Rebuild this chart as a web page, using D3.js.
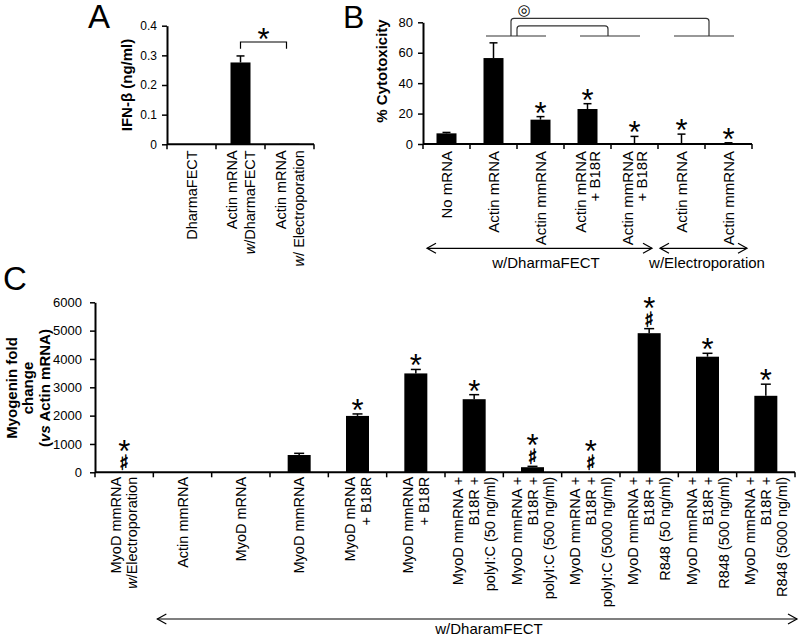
<!DOCTYPE html>
<html><head><meta charset="utf-8">
<script src="https://cdn.jsdelivr.net/npm/d3@7"></script>
<style>
body{margin:0;background:#fff}
svg{display:block}
</style></head>
<body><svg id="chart" width="800" height="635" font-family='"Liberation Sans",Arial,Helvetica,sans-serif'></svg>
<script>
// ---------- Panel A data ----------
const aCategories = [["DharmaFECT"], ["Actin mRNA", "w/DharmaFECT"], ["Actin mRNA", "w/ Electroporation"]];
const aValues = [0, 0.276, 0.002];
const aErrors = [0, 0.022, 0];
const aMarks = [[], [], []];
const aTicks = [0, 0.1, 0.2, 0.3, 0.4];

// ---------- Panel B data ----------
const bCategories = [["No mRNA"], ["Actin mRNA"], ["Actin mmRNA"], ["Actin mRNA", "+ B18R"], ["Actin mmRNA", "+ B18R"], ["Actin mRNA"], ["Actin mmRNA"]];
const bValues = [7, 56.5, 16, 23, 0, 0, 0.5];
const bErrors = [0.6, 10, 2, 3.5, 5, 6.5, 0.3];
const bMarks = [[], [], ["*"], ["*"], ["*"], ["*"], ["*"]];
const bTicks = [0, 20, 40, 60, 80];
const bGroups = ["w/DharmaFECT", "w/Electroporation"];

// ---------- Panel C data ----------
const cCategories = [
  ["MyoD mmRNA", "w/Electroporation"],
  ["Actin mmRNA"],
  ["MyoD mRNA"],
  ["MyoD mmRNA"],
  ["MyoD mRNA", "+ B18R"],
  ["MyoD mmRNA", "+ B18R"],
  ["MyoD mmRNA +", "B18R +", "polyI:C (50 ng/ml)"],
  ["MyoD mmRNA +", "B18R +", "polyI:C (500 ng/ml)"],
  ["MyoD mmRNA +", "B18R +", "polyI:C (5000 ng/ml)"],
  ["MyoD mmRNA +", "B18R +", "R848 (50 ng/ml)"],
  ["MyoD mmRNA +", "B18R +", "R848 (500 ng/ml)"],
  ["MyoD mmRNA +", "B18R +", "R848 (5000 ng/ml)"]
];
const cValues = [0, 0, 0, 610, 1990, 3490, 2580, 180, 0, 4910, 4080, 2700];
const cErrors = [0, 0, 0, 60, 70, 140, 160, 30, 0, 160, 120, 410];
const cMarks = [["*", "♯"], [], [], [], ["*"], ["*"], ["*"], ["*", "♯"], ["*", "♯"], ["*", "♯"], ["*"], ["*"]];
const cTicks = [0, 1000, 2000, 3000, 4000, 5000, 6000];
const cGroup = "w/DharamFECT";

const svg = d3.select("#chart");
const SYM = '"DejaVu Sans"';

function addLabelLine(sel, str, italicW) {
  if (italicW && str.startsWith("w/")) {
    sel.append("tspan").style("font-style", "italic").text("w");
    sel.append("tspan").text(str.slice(1));
  } else sel.text(str);
}

function star(g, cx, cy) {
  g.append("text").attr("x", cx).attr("y", cy + 17).attr("text-anchor", "middle")
    .attr("fill", "#000").style("font-size", "31px").text("*");
}

function panel(cfg) {
  const g = svg.append("g");
  const n = cfg.values.length;
  const x = d3.scaleBand().domain(d3.range(n)).range([cfg.x0, cfg.x1]).padding(0);
  const y = d3.scaleLinear().domain([0, cfg.max]).range([cfg.yBase, cfg.yTop]);
  const bw = x.bandwidth();

  g.selectAll("rect.bar").data(cfg.values).join("rect")
    .attr("x", (d, i) => x(i) + (bw - cfg.barW) / 2)
    .attr("y", d => y(d))
    .attr("width", cfg.barW)
    .attr("height", d => cfg.yBase - y(d))
    .attr("fill", "#000");

  cfg.values.forEach((v, i) => {
    const e = cfg.errors[i];
    if (e <= 0) return;
    const cx = x(i) + bw / 2;
    g.append("line").attr("x1", cx).attr("x2", cx).attr("y1", y(v)).attr("y2", y(v + e))
      .attr("stroke", "#000").attr("stroke-width", 1.5);
    g.append("line").attr("x1", cx - cfg.capW / 2).attr("x2", cx + cfg.capW / 2)
      .attr("y1", y(v + e)).attr("y2", y(v + e)).attr("stroke", "#000").attr("stroke-width", 1.5);
  });

  cfg.marks.forEach((m, i) => {
    if (!m.length) return;
    const cx = x(i) + bw / 2;
    let cy = y(cfg.values[i] + cfg.errors[i]) - 10;
    for (let k = m.length - 1; k >= 0; k--) {
      const s = m[k];
      if (s === "*") star(g, cx, cy);
      else g.append("text").attr("x", cx).attr("y", cy + 8).attr("text-anchor", "middle")
          .attr("fill", "#000").attr("stroke", "#000").attr("stroke-width", 0.6)
          .style("font-family", SYM).style("font-size", "21px").text(s);
      cy -= 17;
    }
  });

  const ya = d3.axisLeft(y).tickValues(cfg.ticks).tickSize(5).tickSizeOuter(0)
    .tickPadding(cfg.tickPad).tickFormat(cfg.fmt);
  const yg = g.append("g").attr("transform", `translate(${cfg.x0},0)`).call(ya);
  yg.attr("font-family", null).attr("font-size", null);
  yg.select(".domain").attr("stroke", "#000").attr("stroke-width", 2);
  yg.selectAll(".tick line").attr("stroke", "#000").attr("stroke-width", 1.5);
  yg.selectAll(".tick text").style("font-size", cfg.tickFont + "px").attr("fill", "#000");

  g.append("line").attr("x1", cfg.x0).attr("x2", cfg.x1).attr("y1", cfg.yBase).attr("y2", cfg.yBase)
    .attr("stroke", "#000").attr("stroke-width", 2);
  d3.range(n + 1).forEach(i => {
    const bx = i < n ? x(i) : x(n - 1) + bw;
    g.append("line").attr("x1", bx).attr("x2", bx).attr("y1", cfg.yBase).attr("y2", cfg.yBase + 5)
      .attr("stroke", "#000").attr("stroke-width", 1.5);
  });

  cfg.categories.forEach((lines, i) => {
    const cx = x(i) + bw / 2;
    lines.forEach((ln, j) => {
      const lx = cx + (j - (lines.length - 1) / 2) * cfg.lineGap;
      const t = g.append("text")
        .attr("transform", `translate(${lx},${cfg.yBase + cfg.labelGap}) rotate(-90)`)
        .attr("text-anchor", "end").attr("dy", "0.35em").style("font-size", cfg.labelFont + "px");
      addLabelLine(t, ln, cfg.italicW);
    });
  });
  return { x, y, bw, g };
}

function arrow(g, xa, xb, yy) {
  g.append("line").attr("x1", xa).attr("x2", xb).attr("y1", yy).attr("y2", yy).attr("stroke", "#000").attr("stroke-width", 1.2);
  g.append("path").attr("d", `M${xa + 9},${yy - 5}L${xa},${yy}L${xa + 9},${yy + 5}`).attr("fill", "none").attr("stroke", "#000").attr("stroke-width", 1.2);
  g.append("path").attr("d", `M${xb - 9},${yy - 5}L${xb},${yy}L${xb - 9},${yy + 5}`).attr("fill", "none").attr("stroke", "#000").attr("stroke-width", 1.2);
}

// ---------- Panel A ----------
const A = panel({
  x0: 167, x1: 314, yBase: 144.3, yTop: 25.7, max: 0.4,
  categories: aCategories, values: aValues, errors: aErrors, marks: aMarks,
  ticks: aTicks, fmt: d => d === 0 ? "0" : d3.format(".1f")(d), tickFont: 12, tickPad: 5,
  barW: 20, capW: 8, labelFont: 14.5, lineGap: 18, labelGap: 6, italicW: true
});
svg.append("text").attr("x", 88).attr("y", 28).style("font-size", "33px").text("A");
svg.append("text").attr("transform", "translate(127,85) rotate(-90)").attr("text-anchor", "middle")
  .attr("dy", "0.35em").style("font-size", "15px").style("font-weight", "bold").text("IFN-β (ng/ml)");
{
  const xl = A.x(1) + A.bw / 2, xr = A.x(2) + A.bw / 2 - 3, yb = A.y(0.345), yt = A.y(0.322);
  A.g.append("path").attr("d", `M${xl},${yt}V${yb}H${xr}V${yt}`).attr("fill", "none").attr("stroke", "#000").attr("stroke-width", 1.2);
  star(A.g, (xl + xr) / 2, yb - 9);
}

// ---------- Panel B ----------
const B = panel({
  x0: 423, x1: 752, yBase: 144, yTop: 22.3, max: 80,
  categories: bCategories, values: bValues, errors: bErrors, marks: bMarks,
  ticks: bTicks, fmt: d3.format("d"), tickFont: 13, tickPad: 5,
  barW: 20, capW: 8, labelFont: 15, lineGap: 14.5, labelGap: 7, italicW: false
});
svg.append("text").attr("x", 343).attr("y", 28).style("font-size", "32px").text("B");
svg.append("text").attr("transform", "translate(382,71) rotate(-90)").attr("text-anchor", "middle")
  .attr("dy", "0.35em").style("font-size", "15px").style("font-weight", "bold").text("% Cytotoxicity");
{
  const bnd = i => B.x(i);
  const ySeg = B.y(71), yIn = B.y(77.6), yOut = B.y(82.6);
  [[1, 2], [3, 4], [5, 6]].forEach(([i]) => {
    const c = bnd(i + 1);
    B.g.append("line").attr("x1", c - 31).attr("x2", c + 29).attr("y1", ySeg).attr("y2", ySeg).attr("stroke", "#333").attr("stroke-width", 1.2);
  });
  const r = 3;
  const l1 = bnd(2) - 6, r1 = bnd(6) + 4, l2 = bnd(2), r2 = bnd(4) - 3;
  B.g.append("path").attr("d", `M${l1},${ySeg}V${yOut + r}Q${l1},${yOut} ${l1 + r},${yOut}H${r1 - r}Q${r1},${yOut} ${r1},${yOut + r}V${ySeg}`)
    .attr("fill", "none").attr("stroke", "#333").attr("stroke-width", 1.2);
  B.g.append("path").attr("d", `M${l2},${ySeg}V${yIn + r}Q${l2},${yIn} ${l2 + r},${yIn}H${r2 - r}Q${r2},${yIn} ${r2},${yIn + r}V${ySeg}`)
    .attr("fill", "none").attr("stroke", "#333").attr("stroke-width", 1.2);
  B.g.append("text").attr("x", l1 + 13).attr("y", 9.5).attr("dy", "0.35em").attr("text-anchor", "middle")
    .style("font-family", SYM).style("font-size", "15px").text("◎");

  const ay = 248.3;
  arrow(B.g, B.x(0) + 4, B.x(5) - 6, ay);
  arrow(B.g, B.x(5) + 2, B.x(6) + B.bw - 5, ay);
  B.g.append("text").attr("x", 546).attr("y", 268).attr("text-anchor", "middle").style("font-size", "15px").text(bGroups[0]);
  B.g.append("text").attr("x", 707).attr("y", 268).attr("text-anchor", "middle").style("font-size", "15px").text(bGroups[1]);
}

// ---------- Panel C ----------
const C = panel({
  x0: 95, x1: 795, yBase: 472.3, yTop: 302.3, max: 6000,
  categories: cCategories, values: cValues, errors: cErrors, marks: cMarks,
  ticks: cTicks, fmt: d3.format("d"), tickFont: 13, tickPad: 8,
  barW: 23, capW: 10, labelFont: 14.5, lineGap: 16, labelGap: 4.5, italicW: true
});
svg.append("text").attr("x", 3).attr("y", 290).style("font-size", "33px").text("C");
{
  const ylab = [["Myogenin fold"], ["change"], ["(", "vs", " Actin mRNA)"]];
  const xs = [11.5, 28, 44.5];
  ylab.forEach((parts, j) => {
    const t = svg.append("text").attr("transform", `translate(${xs[j]},388) rotate(-90)`).attr("text-anchor", "middle")
      .attr("dy", "0.35em").style("font-size", "15px").style("font-weight", "bold");
    parts.forEach(p => { const s = t.append("tspan").text(p); if (p === "vs") s.style("font-style", "italic"); });
  });
  arrow(C.g, C.x(1) + 4, 797, 619);
  C.g.append("text").attr("x", 489).attr("y", 634).attr("text-anchor", "middle").style("font-size", "15px").text(cGroup);
}
</script></body></html>
